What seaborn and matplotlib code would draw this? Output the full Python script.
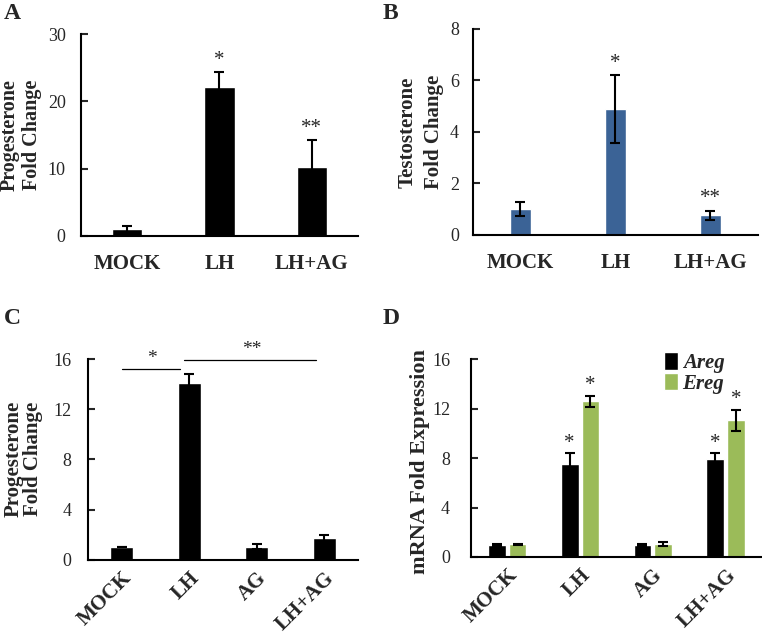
import pandas as pd
import matplotlib
matplotlib.use("Agg")
import matplotlib.pyplot as plt
import seaborn as sns

sns.set_theme(style="white")
plt.rcParams["font.family"] = ["Liberation Serif", "DejaVu Serif"]

# panel A: progesterone
a_groups = ["MOCK", "LH", "LH+AG"]
a_mean = [1.0, 22.1, 10.3]
a_err = [0.5, 2.3, 4.0]
a_stars = ["", "*", "**"]

# panel B: testosterone
b_groups = ["MOCK", "LH", "LH+AG"]
b_mean = [1.02, 4.88, 0.76]
b_err = [0.27, 1.32, 0.19]
b_stars = ["", "*", "**"]

# panel C: progesterone, 4 treatments
c_groups = ["MOCK", "LH", "AG", "LH+AG"]
c_mean = [1.02, 14.05, 1.04, 1.75]
c_err = [0.03, 0.75, 0.22, 0.25]

# panel D: mRNA expression
d_groups = ["MOCK", "LH", "AG", "LH+AG"]
d_areg = [0.98, 7.55, 0.98, 7.9]
d_areg_err = [0.06, 0.83, 0.08, 0.48]
d_ereg = [1.02, 12.58, 1.05, 11.05]
d_ereg_err = [0.03, 0.48, 0.19, 0.88]
d_areg_stars = ["", "*", "", "*"]
d_ereg_stars = ["", "*", "", "*"]

BLUE = "#3b6396"
GREEN = "#9bbb59"

fig = plt.figure(figsize=(7.62, 6.38), dpi=100)
axA = fig.add_axes([0.1063, 0.6301, 0.3635, 0.3166])
axB = fig.add_axes([0.6207, 0.6317, 0.374, 0.3229])
axC = fig.add_axes([0.1155, 0.1227, 0.3543, 0.3146])
axD = fig.add_axes([0.618, 0.127, 0.382, 0.310])


def style_axis(ax, ymax, step, ypad, rotate=False):
    ax.set_ylim(0, ymax)
    ax.set_yticks(range(0, ymax + 1, step))
    for s in ["top", "right"]:
        ax.spines[s].set_visible(False)
    for s in ["left", "bottom"]:
        ax.spines[s].set_color("black")
        ax.spines[s].set_linewidth(1.5)
    ax.tick_params(axis="y", direction="in", length=5, width=1.5, labelsize=13, pad=ypad, left=True)
    ax.tick_params(axis="x", length=0, labelsize=15, pad=13 if not rotate else 6)
    for lab in ax.get_xticklabels():
        lab.set_fontweight("bold")
        if rotate:
            lab.set_rotation(45)
            lab.set_ha("right")
            lab.set_rotation_mode("anchor")
    ax.set_xlabel("")


def add_errors(ax, patches, means, errs, stars=None, gap=0.0):
    for p, m, e, st in zip(patches, means, errs, stars or [""] * len(means)):
        xc = p.get_x() + p.get_width() / 2
        ax.errorbar(xc, m, yerr=e, fmt="none", ecolor="black", elinewidth=1.5,
                    capsize=3.5, capthick=1.5)
        if st:
            ax.text(xc, m + e + gap, st, ha="center", va="bottom", fontsize=15)


def simple_bars(ax, groups, means, color, width):
    df = pd.DataFrame({"group": groups, "value": means})
    sns.barplot(data=df, x="group", y="value", color=color, width=width,
                saturation=1, ax=ax, errorbar=None)
    ax.set_xlim(-0.5, len(groups) - 0.5)
    return ax.patches[:len(groups)]


# A
pa = simple_bars(axA, a_groups, a_mean, "black", 0.33)
add_errors(axA, pa, a_mean, a_err, a_stars, gap=0.3)
style_axis(axA, 30, 10, ypad=11)
axA.set_ylabel("Progesterone\nFold Change", fontsize=14.5, fontweight="bold", linespacing=1.2)
axA.yaxis.set_label_coords(-0.14, 0.5)

# B
pb = simple_bars(axB, b_groups, b_mean, BLUE, 0.23)
add_errors(axB, pb, b_mean, b_err, b_stars, gap=0.1)
style_axis(axB, 8, 2, ypad=10)
axB.set_ylabel("Testosterone\nFold Change", fontsize=15, fontweight="bold", linespacing=1.45)
axB.yaxis.set_label_coords(-0.102, 0.5)

# C
pc = simple_bars(axC, c_groups, c_mean, "black", 0.34)
add_errors(axC, pc, c_mean, c_err)
style_axis(axC, 16, 4, ypad=12, rotate=True)
axC.set_ylabel("Progesterone\nFold Change", fontsize=15, fontweight="bold", linespacing=1.0)
axC.yaxis.set_label_coords(-0.165, 0.5)
# significance brackets
axC.plot([0, 0.86], [15.2, 15.2], color="black", lw=0.9, clip_on=False)
axC.text(0.45, 15.35, "*", ha="center", va="bottom", fontsize=14)
axC.plot([0.92, 2.88], [15.9, 15.9], color="black", lw=0.9, clip_on=False)
axC.text(1.93, 16.1, "**", ha="center", va="bottom", fontsize=14)

# D
dd = pd.DataFrame({
    "group": d_groups * 2,
    "gene": ["Areg"] * len(d_groups) + ["Ereg"] * len(d_groups),
    "value": d_areg + d_ereg,
})
sns.barplot(data=dd, x="group", y="value", hue="gene", palette=["black", GREEN],
            width=0.57, gap=0.15, saturation=1, errorbar=None, ax=axD)
axD.set_xlim(-0.5, len(d_groups) - 0.5)
n = len(d_groups)
add_errors(axD, axD.patches[:n], d_areg, d_areg_err, d_areg_stars, gap=0.05)
add_errors(axD, axD.patches[n:2 * n], d_ereg, d_ereg_err, d_ereg_stars, gap=0.05)
style_axis(axD, 16, 4, ypad=15, rotate=True)
axD.set_ylabel("mRNA Fold Expression", fontsize=16, fontweight="bold")
axD.yaxis.set_label_coords(-0.14, 0.48)
leg = axD.legend(loc="upper right", bbox_to_anchor=(0.935, 1.13), frameon=False,
                 handlelength=0.7, handleheight=0.9, handletextpad=0.2,
                 labelspacing=0.0, fontsize=15)
for t in leg.get_texts():
    t.set_fontweight("bold")
    t.set_fontstyle("italic")

# panel letters
for lab, x, y in [("A", 0.005, 0.995), ("B", 0.502, 0.995), ("C", 0.005, 0.517), ("D", 0.502, 0.517)]:
    fig.text(x, y, lab, fontsize=17, fontweight="bold", va="top", ha="left")

fig.savefig("out.png", dpi=100)
